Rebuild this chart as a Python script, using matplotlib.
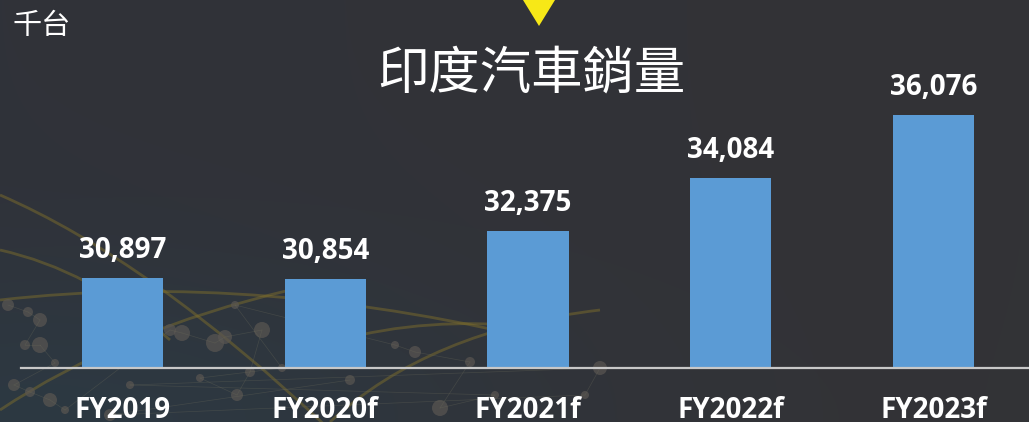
import numpy as np
import matplotlib
matplotlib.use("Agg")
import matplotlib.pyplot as plt
from matplotlib.path import Path
from matplotlib.patches import PathPatch, Circle, Polygon

# ── Data ─────────────────────────────────────────────────────────────
categories = ["FY2019", "FY2020f", "FY2021f", "FY2022f", "FY2023f"]
sales = [30897, 30854, 32375, 34084, 36076]  # 千台
value_labels = ["30,897", "30,854", "32,375", "34,084", "36,076"]

TITLE = "印度汽車銷量"
UNIT = "千台"

BAR = "#5b9bd5"
AXIS = "#c8c8c8"
GOLD = "#7d6d2c"
DOT = "#5a5652"
W, H = 1029, 422

fig = plt.figure(figsize=(W / 100, H / 100), dpi=100)

# ── Background: dark gradient + network decoration (pixel coords) ────
bg = fig.add_axes([0, 0, 1, 1])
bg.set_xlim(0, W)
bg.set_ylim(H, 0)
bg.axis("off")
yy, xx = np.mgrid[0:H, 0:W]
top = np.array([0x30, 0x32, 0x39]) / 255
right = np.array([0x33, 0x33, 0x36]) / 255
teal = np.array([0x2c, 0x3a, 0x44]) / 255
t = np.clip(xx / W, 0, 1)[..., None]
img = top * (1 - t) + right * t
glow = np.exp(-(((xx - 60) / 420) ** 2 + ((yy - 420) / 160) ** 2))[..., None]
img = img * (1 - 0.8 * glow) + teal * 0.8 * glow
bg.imshow(img, extent=(0, W, H, 0), aspect="auto", zorder=0)

curves = [
    [(0, 195), (150, 260), (330, 430)],
    [(0, 300), (260, 270), (560, 345)],
    [(0, 410), (120, 330), (290, 290)],
    [(360, 335), (450, 315), (560, 330)],
    [(0, 250), (90, 270), (170, 340)],
    [(330, 422), (430, 330), (600, 310)],
]
for pts in curves:
    path = Path(pts, [Path.MOVETO, Path.CURVE3, Path.CURVE3])
    bg.add_patch(PathPatch(path, fill=False, ec=GOLD, lw=2.0, alpha=0.5, zorder=1))

dots = [(8, 305, 6), (28, 312, 5), (40, 320, 7), (25, 345, 5), (40, 345, 8),
        (55, 363, 4), (14, 385, 6), (30, 392, 5), (50, 400, 7), (65, 410, 4),
        (170, 330, 6), (182, 333, 8), (215, 343, 9), (225, 337, 7),
        (262, 330, 8), (250, 372, 5), (237, 395, 6), (200, 378, 4),
        (282, 368, 4), (235, 305, 4), (395, 345, 4), (415, 352, 6),
        (470, 362, 5), (440, 408, 8), (495, 395, 4), (130, 385, 4),
        (600, 368, 7), (585, 395, 4), (110, 415, 6), (350, 380, 5)]
for x, y, r in dots:
    bg.add_patch(Circle((x, y), r, fc=DOT, ec="none", alpha=0.7, zorder=1))
for (x0, y0, _), (x1, y1, _) in zip(dots[:-1], dots[1:]):
    bg.plot([x0, x1], [y0, y1], color="#6a6a5a", lw=0.5, alpha=0.35, zorder=1)

# yellow marker at the top
bg.add_patch(Polygon([(523, 0), (555, 0), (539, 26)], closed=True,
                     fc="#f7e817", ec="none", zorder=2))

# ── Bars ─────────────────────────────────────────────────────────────
ax = fig.add_axes([21 / W, (H - 367.5) / H, 1014 / W, 367.5 / H])
ax.patch.set_alpha(0)
x = np.arange(len(categories))
ax.bar(x, sales, width=0.40, color=BAR, zorder=3)
ax.set_xlim(-0.5, len(categories) - 0.5)
ax.set_ylim(28033, 28033 + 367.5 / 31.36 * 1000)

for s in ("top", "right", "left"):
    ax.spines[s].set_visible(False)
ax.spines["bottom"].set_color(AXIS)
ax.spines["bottom"].set_linewidth(1.6)
ax.spines["bottom"].set_zorder(4)
ax.set_yticks([])
ax.set_xticks([])

for i, (v, lab) in enumerate(zip(sales, value_labels)):
    ax.annotate(lab, (i, v), xytext=(0, 14.4), textcoords="offset points",
                ha="center", va="baseline", color="white", fontsize=20,
                fontweight="bold", family="Open Sans", clip_on=False)
    ax.annotate(categories[i], (i, ax.get_ylim()[0]), xytext=(0, -36),
                textcoords="offset points", ha="center", va="baseline",
                color="white", fontsize=20, fontweight="bold",
                family="Open Sans", annotation_clip=False)

# ── Titles ───────────────────────────────────────────────────────────
fig.text(531 / W, 1 - 74 / H, TITLE, ha="center", va="center", color="white",
         fontsize=37, family=["Noto Sans CJK TC", "DejaVu Sans"])
fig.text(12 / W, 1 - 26 / H, UNIT, ha="left", va="center", color="white",
         fontsize=21, family=["Noto Sans CJK TC", "DejaVu Sans"])

fig.savefig("out.png", dpi=100)
